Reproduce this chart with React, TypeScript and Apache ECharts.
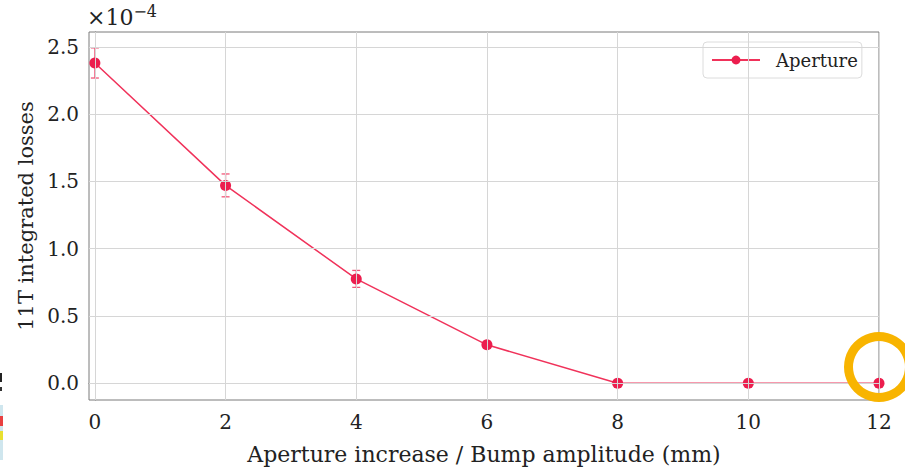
import React, { useEffect, useRef } from "react";
import * as echarts from "echarts";

const xValues = [0, 2, 4, 6, 8, 10, 12];
const lossValues = [2.38, 1.47, 0.775, 0.285, 0.0, 0.0, 0.0];
const lossErrors = [0.112, 0.085, 0.063, 0.024, 0.0, 0.0, 0.0];
const xTicks = [0, 2, 4, 6, 8, 10, 12];
const yTicks = [0, 0.5, 1.0, 1.5, 2.0, 2.5];

const FONT = "DejaVu Serif";
const LINE = "#F0325A";
const MARK = "#EC1E4E";
const GRIDC = "#d6d6d6";

export default function App() {
  const ref = useRef<HTMLDivElement>(null);
  useEffect(() => {
    if (!ref.current) return;
    const chart = echarts.init(ref.current, undefined, { renderer: "svg" });
    const pts = xValues.map((x, i) => [x, lossValues[i]]);
    const errs = xValues.map((x, i) => [x, lossValues[i] - lossErrors[i], lossValues[i] + lossErrors[i]]);
    chart.setOption({
      animation: false,
      textStyle: { fontFamily: FONT },
      grid: {
        left: 89, right: 26, top: 32, bottom: 71,
        show: true, borderColor: "#7a7a7a", borderWidth: 1, backgroundColor: "transparent",
      },
      xAxis: {
        type: "value", min: -0.09, max: 12,
        name: "Aperture increase / Bump amplitude (mm)",
        nameLocation: "middle", nameGap: 43,
        nameTextStyle: { fontFamily: FONT, fontSize: 22, color: "#222" },
        axisLine: { show: true, lineStyle: { color: "#7a7a7a" } },
        axisTick: { show: true, customValues: xTicks, length: 4, lineStyle: { color: "#555" } },
        axisLabel: { customValues: xTicks, margin: 12, fontFamily: FONT, fontSize: 20, color: "#222", formatter: (v: number) => String(v) },
        splitLine: { show: false },
      },
      yAxis: {
        type: "value", min: -0.125, max: 2.61,
        name: "11T integrated losses",
        nameLocation: "middle", nameGap: 48,
        nameTextStyle: { fontFamily: FONT, fontSize: 21, color: "#222" },
        axisLine: { show: true, lineStyle: { color: "#7a7a7a" } },
        axisTick: { show: true, customValues: yTicks, length: 4, lineStyle: { color: "#555" } },
        axisLabel: { customValues: yTicks, margin: 10, fontFamily: FONT, fontSize: 20, color: "#222", formatter: (v: number) => v.toFixed(1) },
        splitLine: { show: false },
      },
      legend: {
        show: true, left: 703, top: 42, orient: "vertical",
        backgroundColor: "rgba(255,255,255,0.85)", borderColor: "#dcdcdc", borderWidth: 1, borderRadius: 4,
        padding: [9, 4, 9, 8], itemWidth: 48, itemHeight: 11,
        textStyle: { fontFamily: FONT, fontSize: 18, color: "#222", padding: [0, 0, 0, 11] },
        data: ["Aperture"],
      },
      graphic: [
        { type: "ring", shape: { cx: 879, cy: 367, r: 35, r0: 26 }, style: { fill: "#F8B400" }, z: 100 },
        { type: "text", left: 87, top: 3, style: { text: "×10{s|−4}", rich: { s: { fontSize: 16, verticalAlign: "top", padding: [0, 0, 12, 0], fontFamily: FONT, fill: "#222" } }, fontFamily: FONT, fontSize: 22, fill: "#222" } },
        { type: "rect", shape: { x: 0, y: 373, width: 2, height: 9 }, style: { fill: "#222" } },
        { type: "rect", shape: { x: 0, y: 387, width: 2, height: 4 }, style: { fill: "#333" } },
        { type: "rect", shape: { x: 0, y: 405, width: 3, height: 55 }, style: { fill: "#cfe6ee" } },
        { type: "rect", shape: { x: 0, y: 416, width: 3, height: 10 }, style: { fill: "#e84040" } },
        { type: "rect", shape: { x: 0, y: 431, width: 3, height: 9 }, style: { fill: "#e8e030" } },
      ],
      series: [
        {
          type: "line", name: "grid", data: [], silent: true, z: 0,
          markLine: {
            silent: true, symbol: "none", label: { show: false },
            lineStyle: { color: GRIDC, type: "solid", width: 1 },
            data: [...xTicks.map((v) => ({ xAxis: v })), ...yTicks.map((v) => ({ yAxis: v }))],
          },
        },
        {
          type: "custom", name: "err", z: 3,
          data: errs,
          renderItem: (params: any, api: any) => {
            const x = api.value(0);
            const lo = api.coord([x, api.value(1)]);
            const hi = api.coord([x, api.value(2)]);
            const st = { stroke: "#F2587A", lineWidth: 1.3 };
            return {
              type: "group",
              children: [
                { type: "line", shape: { x1: lo[0], y1: lo[1], x2: hi[0], y2: hi[1] }, style: st },
                { type: "line", shape: { x1: lo[0] - 4, y1: lo[1], x2: lo[0] + 4, y2: lo[1] }, style: st },
                { type: "line", shape: { x1: hi[0] - 4, y1: hi[1], x2: hi[0] + 4, y2: hi[1] }, style: st },
              ],
            };
          },
        },
        {
          type: "line", name: "Aperture", data: pts, z: 4,
          lineStyle: { color: LINE, width: 1.5 },
          itemStyle: { color: MARK },
          symbol: "circle", symbolSize: 11, showSymbol: true, clip: false,
        },
      ],
    });
    return () => chart.dispose();
  }, []);
  return <div ref={ref} style={{ width: 905, height: 471, position: "absolute", left: 0, top: 0 }} />;
}
